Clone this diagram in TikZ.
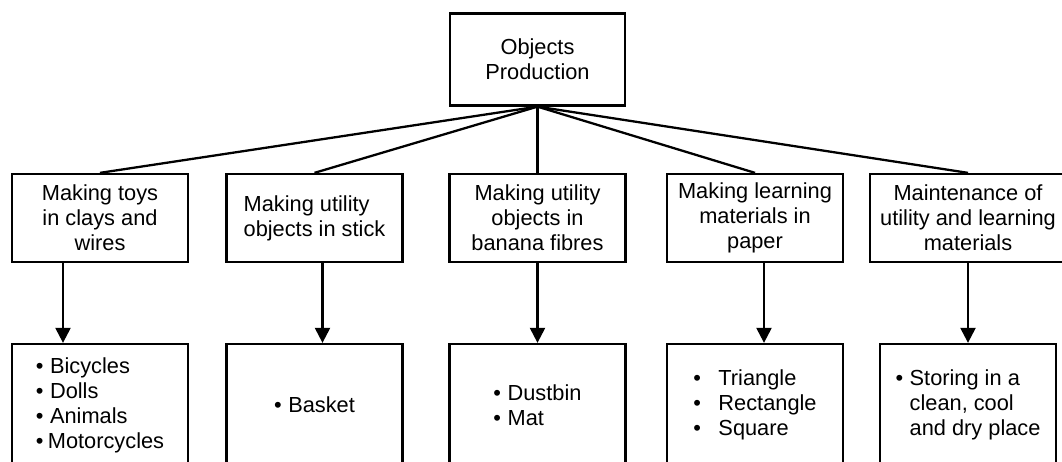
\documentclass[tikz,border=0pt]{standalone}
\usepackage{fontspec}
\setmainfont{Liberation Sans}
\usepackage{tikz}
\usetikzlibrary{arrows.meta,positioning}
\tikzset{box/.style={draw, line width=1.3pt, minimum width=3.52cm,
  minimum height=1.76cm, inner sep=1pt, align=center,
  font=\fontsize{12.4}{14.2}\selectfont}}
\tikzset{
  itembox/.style={box, minimum height=2.44cm, align=left},
  edgeln/.style={black, line width=1.3pt},
  edgearr/.style={black, line width=1.3pt, -{Triangle[length=8.5pt,width=8.5pt]}}
}
\newcommand\itm[2][0.3em]{\textbullet\hspace{#1}#2}

\begin{document}
\begin{tikzpicture}
\useasboundingbox (0,0) rectangle (21.24,9.24);

\node[box, minimum width=3.5cm, minimum height=1.84cm](root) at (10.75,8.05)
{Objects\\Production};

\node[box](toys) at (2.0,4.88) {Making toys\\in clays and\\wires};
\node[box, align=left](stick) at (6.29,4.88) {Making utility\\objects in stick};
\node[box](banana) at (10.75,4.88) {Making utility\\objects in\\banana fibres};
\node[box](paper) at (15.1,4.88) {Making learning\\materials in\\paper};
\node[box, minimum width=3.92cm](maint) at (19.36,4.88)
{Maintenance of\\utility and learning\\materials};

\node[itembox](toysl) at (2.0,1.14)
{\itm{Bicycles}\\\itm{Dolls}\\\itm{Animals}\\\itm[0.2em]{Motorcycles}};
\node[itembox](stickl) at (6.29,1.14) {\itm{Basket}};
\node[itembox](bananal) at (10.75,1.14) {\itm{Dustbin}\\\itm{Mat}};
\node[itembox](paperl) at (15.1,1.14)
{\itm[0.8em]{Triangle}\\\itm[0.8em]{Rectangle}\\\itm[0.8em]{Square}};
\node[itembox](maintl) at (19.36,1.14)
{\itm{Storing in a}\\\phantom{\textbullet}\hspace{0.3em}clean, cool\\
\phantom{\textbullet}\hspace{0.3em}and dry place};

\draw[edgeln] (root.south) -- (toys.north);
\draw[edgeln] (root.south) -- (stick.north);
\draw[edgeln] (root.south) -- (banana.north);
\draw[edgeln] (root.south) -- (paper.north);
\draw[edgeln] (root.south) -- (maint.north);

\draw[edgearr] ([xshift=-0.74cm]toys.south) -- ([xshift=-0.74cm]toysl.north);
\draw[edgearr] ([xshift=0.16cm]stick.south) -- ([xshift=0.16cm]stickl.north);
\draw[edgearr] (banana.south) -- (bananal.north);
\draw[edgearr] ([xshift=0.18cm]paper.south) -- ([xshift=0.18cm]paperl.north);
\draw[edgearr] (maint.south) -- (maintl.north);
\end{tikzpicture}
\end{document}
